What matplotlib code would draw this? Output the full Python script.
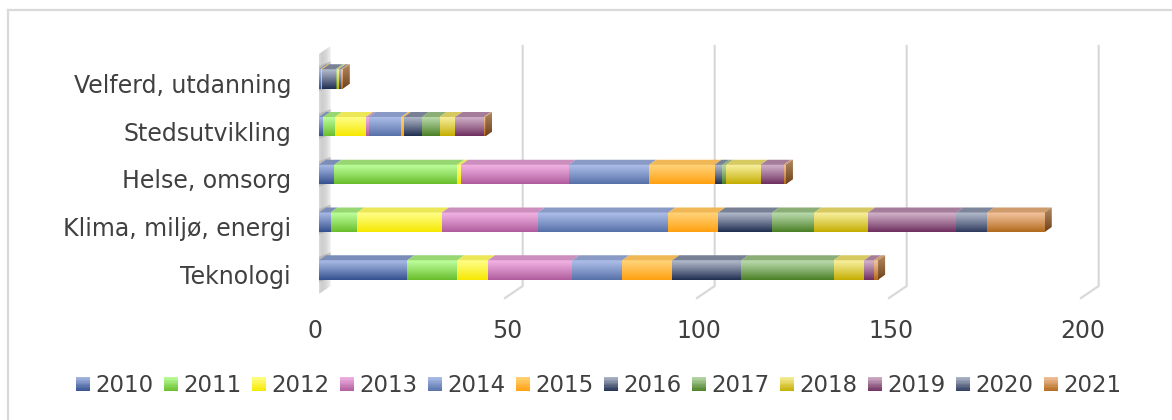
import numpy as np
import matplotlib
matplotlib.use("Agg")
import matplotlib.pyplot as plt
from matplotlib.patches import Polygon, Rectangle
from matplotlib.lines import Line2D
from matplotlib.legend_handler import HandlerBase
from matplotlib.colors import to_rgb
import matplotlib.transforms as mtransforms

# ---------------- data ----------------
categories = ["Teknologi", "Klima, miljø, energi", "Helse, omsorg",
              "Stedsutvikling", "Velferd, utdanning"]
years = ["2010", "2011", "2012", "2013", "2014", "2015",
         "2016", "2017", "2018", "2019", "2020", "2021"]
v2010 = [23, 3, 4, 1.0, 0.4]
v2011 = [13, 7, 32, 3.2, 0]
v2012 = [8, 22, 1, 8.0, 0]
v2013 = [22, 25, 28, 0.7, 0]
v2014 = [13, 34, 21, 8.5, 0]
v2015 = [13, 13, 17, 0.7, 0.5]
v2016 = [18, 14, 2, 4.7, 3.4]
v2017 = [24, 11, 1, 4.6, 0.4]
v2018 = [8, 14, 9, 4.1, 0.4]
v2019 = [2.5, 23, 6, 7.4, 0]
v2020 = [0, 8, 0, 0, 0.7]
v2021 = [1.1, 15, 0.6, 0.4, 0.4]
series = [v2010, v2011, v2012, v2013, v2014, v2015,
          v2016, v2017, v2018, v2019, v2020, v2021]
xticks = [0, 50, 100, 150, 200]

# gradient colours (light top, dark bottom)
light_cols = ["#aabbe6", "#bdff9e", "#ffff88", "#f2b4e4", "#aebfea", "#ffd47a",
              "#b4bccc", "#bcdcb0", "#f8f0a0", "#d4b4cc", "#b4bccc", "#f4c4a0"]
dark_cols = ["#34508f", "#68bd2a", "#f5e800", "#b05c9c", "#5670a8", "#ffa010",
             "#1f2d50", "#4a7f25", "#c4ad00", "#6e2f5e", "#2e3a5e", "#b26a1c"]

TEXT = "#404040"
W, H = 1172, 420

fig = plt.figure(figsize=(W / 100, H / 100), dpi=100)
fig.patch.set_facecolor("white")

# chart area border (top and left visible)
fig.add_artist(Line2D([8 / W, 1.05], [(H - 10) / H, (H - 10) / H],
                      transform=fig.transFigure, color="#d9d9d9", lw=1.6))
fig.add_artist(Line2D([8 / W, 8 / W], [-0.05, (H - 10) / H],
                      transform=fig.transFigure, color="#d9d9d9", lw=1.6))

ax = fig.add_axes([319 / W, (H - 298) / H, (1087 - 319) / W, (298 - 46) / H])
y0, y1 = -0.5864, 4.691
ax.set_xlim(0, 200)
ax.set_ylim(y0, y1)
ax.axis("off")
ax.set_autoscale_on(False)

p00 = ax.transData.transform((0, 0))
ux = ax.transData.transform((1, 0))[0] - p00[0]
uy = ax.transData.transform((0, 1))[1] - p00[1]

# ---------------- back wall gridlines ----------------
back_dx, back_dy = 11.7 / ux, 12 / uy
front_dx = -6 / ux
for v in xticks[1:]:
    ax.plot([v + back_dx, v + back_dx, v + front_dx],
            [y1, y0 + back_dy, y0], color="#d9d9d9", lw=1.6,
            clip_on=False, zorder=1, solid_joinstyle="miter")

# ---------------- left wall ----------------
wall = Polygon([(front_dx, y0), (back_dx, y0 + back_dy), (back_dx, y1),
                (front_dx, y1 - back_dy)], closed=True,
               facecolor="none", edgecolor="none", transform=ax.transData)
ax.add_patch(wall)
wc = np.array([to_rgb(c) for c in ["#f4f4f4", "#e2e2e2", "#cdcdcd", "#d8d8d8", "#f2f2f2"]])
tt = np.linspace(0, 1, 64)
wimg = np.stack([np.interp(tt, np.linspace(0, 1, len(wc)), wc[:, k]) for k in range(3)], axis=-1)[None, :, :]
im = ax.imshow(wimg, extent=(front_dx, back_dx, y0, y1), aspect="auto",
               interpolation="bilinear", zorder=1.5)
im.set_clip_path(wall)

# ---------------- bars ----------------
ypos = np.arange(len(categories))
bh = 19.5 / uy
ddx, ddy = 7 / ux, 5 / uy

# bar shadows on the wall
for yi in ypos:
    yb, yt = yi - bh / 2, yi + bh / 2
    sh = Polygon([(front_dx + 2 / ux, yb - 4 / uy), (back_dx, yb + back_dy - 10 / uy),
                  (back_dx, yt + back_dy - 4 / uy), (front_dx + 2 / ux, yt + 2 / uy)],
                 closed=True, facecolor="#9a9a9a", edgecolor="none", alpha=0.45,
                 zorder=1.6)
    ax.add_patch(sh)


def grad(light, dark, n=64):
    a, b = np.array(to_rgb(light)), np.array(to_rgb(dark))
    t = np.linspace(0, 1, n)[:, None] ** 1.1
    return ((1 - t) * a + t * b)[:, None, :]


lefts = np.zeros(len(categories))
all_bars = []
for si, vals in enumerate(series):
    bars = ax.barh(ypos, vals, left=lefts, height=bh, color="none",
                   edgecolor="none", zorder=2)
    all_bars.append(bars)
    lefts = lefts + np.array(vals)

for si, bars in enumerate(all_bars):
    la, da = np.array(to_rgb(light_cols[si])), np.array(to_rgb(dark_cols[si]))
    topc = (0.55 * la + 0.45 * da) * 0.85 + 0.15 * np.array([0.6, 0.6, 0.6])
    img = grad(light_cols[si], dark_cols[si])
    for p in bars.patches:
        w = p.get_width()
        if w <= 0:
            continue
        xa, yb = p.get_x(), p.get_y()
        xb, yt = xa + w, yb + p.get_height()
        ax.imshow(img, extent=(xa, xb, yb, yt), aspect="auto",
                  interpolation="bilinear", zorder=3)
        ax.add_patch(Polygon([(xa, yt), (xb, yt), (xb + ddx, yt + ddy),
                              (xa + ddx, yt + ddy)], closed=True,
                             facecolor=np.clip(topc, 0, 1), edgecolor="none",
                             zorder=3.5))

# end caps (side of the last series)
for p in all_bars[-1].patches:
    xb = p.get_x() + p.get_width()
    yb, yt = p.get_y(), p.get_y() + p.get_height()
    cap = Polygon([(xb, yb), (xb, yt), (xb + ddx, yt + ddy), (xb + ddx, yb + ddy)],
                  closed=True, facecolor="none", edgecolor="none")
    ax.add_patch(cap)
    cim = ax.imshow(grad("#b08860", "#6e4018"), extent=(xb, xb + ddx, yb, yt + ddy),
                    aspect="auto", interpolation="bilinear", zorder=3.6)
    cim.set_clip_path(cap)

# ---------------- labels ----------------
ylab_tr = ax.transData + mtransforms.Affine2D().translate(-28, -13.8)
for yi, lab in zip(ypos, categories):
    ax.text(0, yi, lab, transform=ylab_tr, ha="right", va="baseline",
            fontsize=17, color=TEXT)

xlab_tr = ax.transData + mtransforms.Affine2D().translate(-4, -40.3)
for v in xticks:
    ax.text(v, y0, str(v), transform=xlab_tr, ha="center", va="baseline",
            fontsize=17, color=TEXT)


# ---------------- legend ----------------
class GradHandler(HandlerBase):
    def __init__(self, light, dark):
        super().__init__()
        self.light = np.array(to_rgb(light))
        self.dark = np.array(to_rgb(dark))

    def create_artists(self, legend, orig_handle, xdescent, ydescent,
                       width, height, fontsize, trans):
        n = 10
        arts = []
        for i in range(n):
            t = (i + 0.5) / n
            c = (1 - t) * self.light + t * self.dark
            r = Rectangle((-xdescent, -ydescent + height * (1 - (i + 1) / n)),
                          width, height / n + 0.01, facecolor=c,
                          edgecolor="none", transform=trans)
            arts.append(r)
        return arts


handles = [Rectangle((0, 0), 1, 1) for _ in years]
hmap = {h: GradHandler(light_cols[i], dark_cols[i]) for i, h in enumerate(handles)}
leg = fig.legend(handles, years, handler_map=hmap, loc="center",
                 bbox_to_anchor=(0.5108, 0.082), ncol=12, frameon=False,
                 fontsize=16.5, handlelength=0.61, handleheight=0.57,
                 handletextpad=0.22, columnspacing=0.47, borderpad=0,
                 borderaxespad=0)
for t in leg.get_texts():
    t.set_color(TEXT)

fig.savefig("out.png", dpi=100, facecolor="white")
